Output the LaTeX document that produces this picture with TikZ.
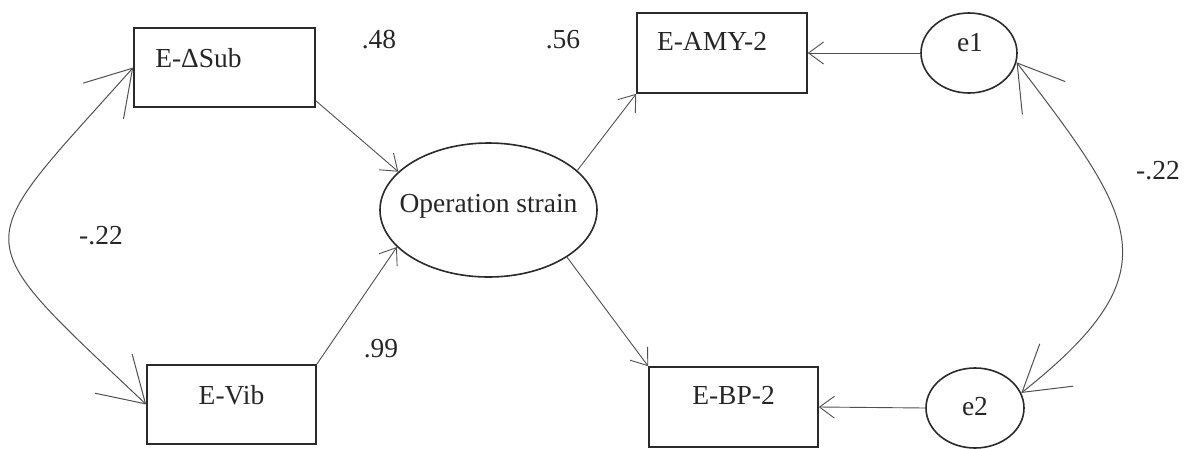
\documentclass[tikz,border=0pt]{standalone}
\usepackage{fontspec}
\setmainfont{Liberation Serif}
\usetikzlibrary{arrows.meta,shapes.geometric}
\definecolor{ink}{HTML}{2A2A2A}
\definecolor{wire}{HTML}{505050}
\definecolor{txt}{HTML}{262626}
\begin{document}
\begin{tikzpicture}[x=1pt,y=-1pt,
  every node/.style={font=\fontsize{27.5}{31}\selectfont, text=txt},
  box/.style={draw=ink, line width=1.6pt, rectangle, inner sep=0pt},
  oval/.style={draw=ink, line width=1.6pt, ellipse, inner sep=0pt},
  arr/.style={draw=wire, line width=0.9pt, -{Straight Barb[length=15pt,width=22pt]}},
  cov/.style={draw=wire, line width=1pt, {Straight Barb[length=44pt,width=54pt]}-{Straight Barb[length=44pt,width=54pt]}},
  coef/.style={inner sep=0pt}]
\useasboundingbox (0,0) rectangle (1187,448);
% observed variables
\node[box, minimum width=181pt, minimum height=79pt,
  label={[xshift=-26pt,yshift=9pt]center:E-ΔSub}] (sub) at (224.5,67.5) {};
\node[box, minimum width=169pt, minimum height=79pt,
  label={[yshift=9pt]center:E-Vib}] (vib) at (231.5,404.5) {};
\node[box, minimum width=170pt, minimum height=80pt,
  label={[xshift=-10pt,yshift=12pt]center:E-AMY-2}] (amy) at (722,53) {};
\node[box, minimum width=169pt, minimum height=80pt,
  label={[yshift=12pt]center:E-BP-2}] (bp) at (733.5,407) {};
% latent and errors
\node[oval, minimum width=217pt, minimum height=134pt] (op) at (488.5,210) {};
\node at (488.5,206.5) {Operation strain};
\node[oval, minimum width=96pt, minimum height=80pt,
  label={[xshift=1pt,yshift=10pt]center:e1}] (e1) at (969,53) {};
\node[oval, minimum width=98pt, minimum height=80pt,
  label={[yshift=1pt]center:e2}] (e2) at (975,408) {};
% paths
\draw[arr] (sub.-20) -- (op.157);
\draw[arr] (vib.north east) -- (op.202);
\draw[arr] (op.24) -- (amy.south west);
\draw[arr] (op.-31) -- (bp.north west);
\draw[arr] (e1.west) -- (amy.east);
\draw[arr] (e2.west) -- (bp.east);
% covariances
\draw[cov] (sub.west) .. controls (-31,252) and (-38,230) .. (vib.west);
\draw[cov] (e1.-11) .. controls (1137,220) and (1175,271) .. (e2.18);
% coefficients
\node[coef] (c48) at (379,40) {.48};
\node[coef] (c56) at (563,40) {.56};
\node[coef] (c99) at (381,349) {.99};
\node[coef] (cl) at (101,236) {-.22};
\node[coef] (cr) at (1158,171) {-.22};
\end{tikzpicture}
\end{document}
